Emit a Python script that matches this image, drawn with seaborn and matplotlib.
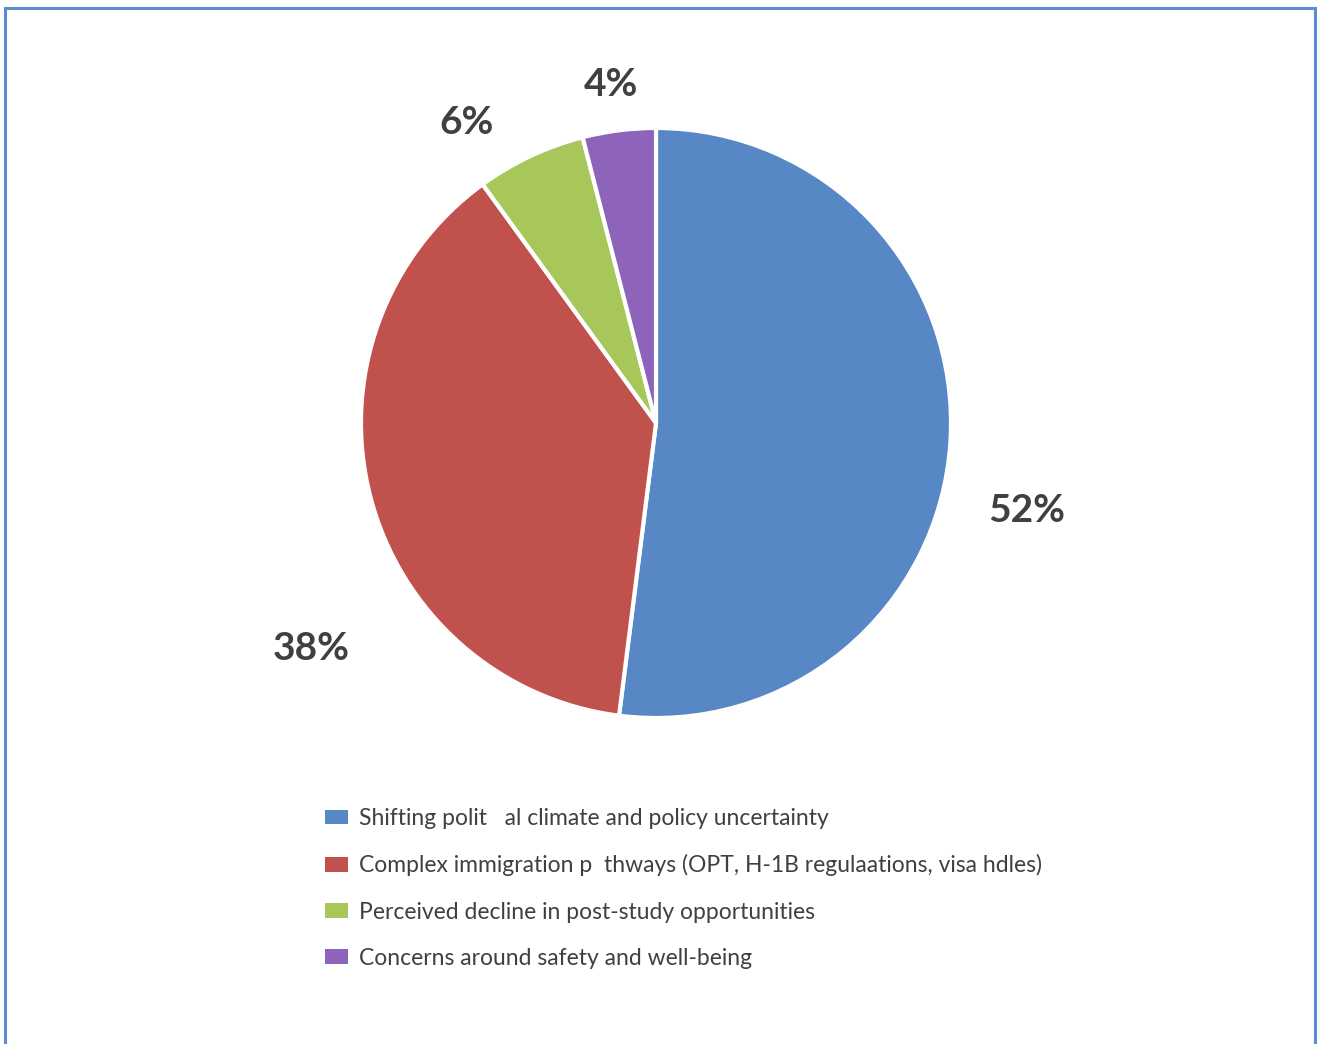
import matplotlib
matplotlib.use("Agg")
import matplotlib.pyplot as plt
from matplotlib.patches import Rectangle, Patch
import seaborn as sns

# data
categories = [
    'Shifting polit   al climate and policy uncertainty',
    'Complex immigration p  thways (OPT, H-1B regulaations, visa hdles)',
    'Perceived decline in post-study opportunities',
    'Concerns around safety and well-being',
]
shares = [52, 38, 6, 4]
colors = ['#5787c4', '#c0514c', '#a7c75b', '#8e63ba']

# where the percent labels sit (data units, pie radius = 1)
label_pos = [(1.258, -0.298), (-1.169, -0.763), (-0.641, 1.020), (-0.153, 1.146)]

sns.set_theme(style='white')
plt.rcParams['font.family'] = ['Lato', 'DejaVu Sans']

fig = plt.figure(figsize=(13.17, 10.44), dpi=100)
ax = fig.add_axes([361 / 1317, 326 / 1044, 590 / 1317, 590 / 1044])

ax.pie(shares, colors=colors, startangle=90, counterclock=False, radius=1,
       wedgeprops={'edgecolor': 'white', 'linewidth': 3})
ax.set_xlim(-1, 1)
ax.set_ylim(-1, 1)
ax.set_aspect('equal')
ax.axis('off')

for s, (x, y) in zip(shares, label_pos):
    ax.text(x, y, f'{s}%', ha='center', va='center', fontsize=28,
            fontweight='bold', color='#404040', clip_on=False)

handles = [Patch(facecolor=c, edgecolor='none') for c in colors]
fig.legend(handles, categories, loc='upper left',
           bbox_to_anchor=(325 / 1317, 1 - 808 / 1044), frameon=False,
           fontsize=16.5, labelcolor='#404040', handlelength=1.0,
           handleheight=0.62, handletextpad=0.48, labelspacing=1.1,
           borderpad=0, borderaxespad=0)

# blue outer frame
fig.patches.append(Rectangle((5 / 1317, -0.05), 1310 / 1317, 1.05 - 8 / 1044,
                             transform=fig.transFigure, fill=False,
                             edgecolor='#5b8bd0', linewidth=2.2))

fig.savefig('out.png', dpi=100)
